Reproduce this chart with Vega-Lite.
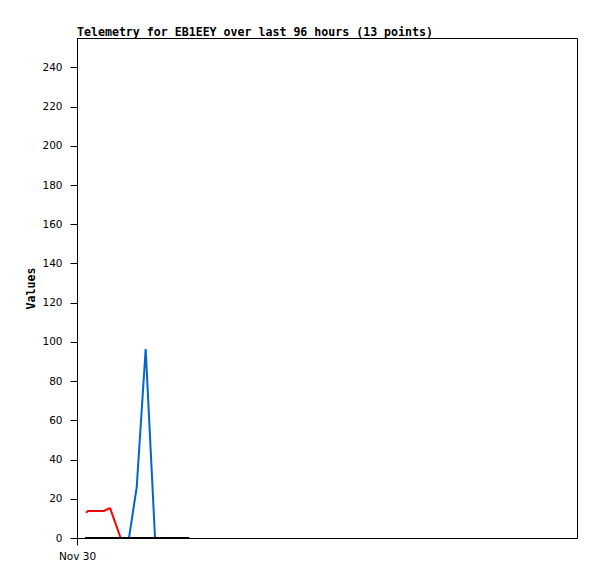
{
  "$schema": "https://vega.github.io/schema/vega-lite/v6.json",
  "width": 500,
  "height": 500,
  "autosize": "none",
  "padding": {"left": 77, "top": 38, "right": 20, "bottom": 41},
  "background": "white",
  "title": {
    "text": "Telemetry for EB1EEY over last 96 hours (13 points)",
    "anchor": "start",
    "frame": "group",
    "font": "DejaVu Sans Mono",
    "fontWeight": "bold",
    "fontSize": 11.6,
    "color": "black",
    "offset": -1
  },
  "config": {
    "view": {"stroke": "black", "strokeWidth": 1},
    "axis": {
      "domainColor": "black",
      "tickColor": "black",
      "labelColor": "black",
      "titleColor": "black",
      "labelFont": "DejaVu Sans",
      "labelFontSize": 10.5,
      "grid": false,
      "tickSize": 7
    }
  },
  "data": {
    "values": [
      {"time": "2023-11-30T01:44:00Z", "series": "red", "value": 12.9},
      {"time": "2023-11-30T02:07:00Z", "series": "red", "value": 13.8},
      {"time": "2023-11-30T05:11:00Z", "series": "red", "value": 13.8},
      {"time": "2023-11-30T06:05:00Z", "series": "red", "value": 15.0},
      {"time": "2023-11-30T06:23:00Z", "series": "red", "value": 15.0},
      {"time": "2023-11-30T08:23:00Z", "series": "red", "value": 0},
      {"time": "2023-11-30T09:59:00Z", "series": "blue", "value": 0},
      {"time": "2023-11-30T11:28:00Z", "series": "blue", "value": 26},
      {"time": "2023-11-30T13:11:00Z", "series": "blue", "value": 96.4},
      {"time": "2023-11-30T14:59:00Z", "series": "blue", "value": 0},
      {"time": "2023-11-30T01:32:00Z", "series": "black", "value": 0},
      {"time": "2023-11-30T21:34:00Z", "series": "black", "value": 0}
    ]
  },
  "mark": {"type": "line", "strokeWidth": 2, "clip": true},
  "encoding": {
    "x": {
      "field": "time",
      "type": "temporal",
      "scale": {"type": "utc", "domain": ["2023-11-30T00:00:00Z", "2023-12-04T00:00:00Z"], "nice": false},
      "axis": {
        "title": null,
        "values": [{"year": 2023, "month": 11, "date": 30, "utc": true}],
        "labelExpr": "'Nov 30'",
        "labelPadding": 6,
        "labelAlign": "center"
      }
    },
    "y": {
      "field": "value",
      "type": "quantitative",
      "scale": {"domain": [0, 255], "nice": false, "zero": true},
      "axis": {
        "title": "Values",
        "titleFont": "DejaVu Sans Mono",
        "titleFontWeight": "bold",
        "titleFontSize": 11.6,
        "titlePadding": 5,
        "values": [0, 20, 40, 60, 80, 100, 120, 140, 160, 180, 200, 220, 240],
        "labelPadding": 8
      }
    },
    "color": {
      "field": "series",
      "type": "nominal",
      "scale": {"domain": ["red", "blue", "black"], "range": ["#ff0000", "#0066cc", "#000000"]},
      "legend": null
    },
    "order": {"field": "time", "type": "temporal"}
  }
}
